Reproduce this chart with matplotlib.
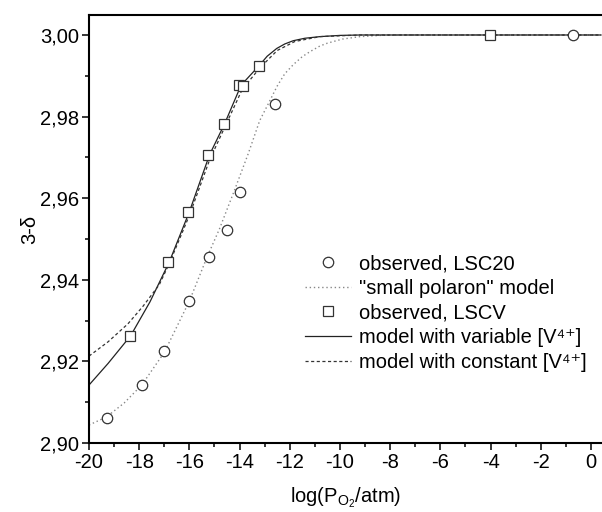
import matplotlib
matplotlib.use("Agg")
import matplotlib.pyplot as plt
from matplotlib.ticker import MultipleLocator, FuncFormatter

plt.rcParams['font.family'] = ['Liberation Sans', 'DejaVu Sans']
plt.rcParams['mathtext.fontset'] = 'custom'
plt.rcParams['mathtext.rm'] = 'Liberation Sans'
plt.rcParams['mathtext.it'] = 'Liberation Sans'

# observed points
lsc20_x = [-19.3, -17.9, -17.0, -16.0, -15.2, -14.5, -14.0, -12.6, -0.7]
lsc20_y = [2.9062, 2.9143, 2.9225, 2.9349, 2.9457, 2.9522, 2.9614, 2.9831, 3.000]

lscv_x = [-18.35, -16.85, -16.04, -15.24, -14.63, -14.01, -13.85, -13.22, -4.03]
lscv_y = [2.9263, 2.9444, 2.9567, 2.9706, 2.9782, 2.9877, 2.9875, 2.9925, 3.000]

# "small polaron" model (LSC20)
polaron_x = [-20, -19.3, -18.6, -17.9, -17.0, -16.0, -15.3, -14.8, -14.2, -13.65,
             -13.2, -12.86, -12.5, -12.2, -11.85, -11.5, -11.2, -10.8, -10.5, -9.9,
             -9.2, -8.4, -7.5, 0.4]
polaron_y = [2.9044, 2.9064, 2.9098, 2.9142, 2.9222, 2.9348, 2.9455, 2.9525, 2.9620, 2.9710,
             2.9790, 2.9831, 2.9875, 2.9905, 2.9928, 2.9947, 2.9959, 2.9973, 2.9980, 2.9990,
             2.9996, 2.9999, 3.0, 3.0]

# model with variable [V4+]
var_x = [-20, -19.24, -18.34, -17.57, -16.8, -16.0, -15.2, -14.6, -13.94, -13.22,
         -12.9, -12.52, -12.2, -11.86, -11.4, -10.8, -10.0, -9.2, 0.4]
var_y = [2.9142, 2.9195, 2.9263, 2.9346, 2.9444, 2.9567, 2.9706, 2.9782, 2.9877, 2.9925,
         2.9948, 2.9967, 2.9978, 2.9986, 2.9992, 2.9996, 2.9999, 3.0, 3.0]

# model with constant [V4+]
const_x = [-20, -19.24, -18.45, -17.85, -17.2, -16.8, -16.0, -15.2, -14.6, -13.9,
           -13.2, -12.5, -11.8, -10.8, -9.2, 0.4]
const_y = [2.9213, 2.9248, 2.9292, 2.9335, 2.9388, 2.9440, 2.9558, 2.9693, 2.9773, 2.9866,
           2.9919, 2.9962, 2.9984, 2.9996, 3.0, 3.0]

fig = plt.figure(figsize=(6.02, 5.12), dpi=100)
ax = fig.add_axes([89/602, 69/512, 513/602, 428/512])

ax.plot(lsc20_x, lsc20_y, 'o', ms=7.5, mfc='white', mec='#333333', mew=0.9,
        label='observed, LSC20', zorder=3)
ax.plot(polaron_x, polaron_y, color='#888888', lw=1.0, ls=(0, (1, 2)),
        label='"small polaron" model')
ax.plot(lscv_x, lscv_y, 's', ms=7, mfc='white', mec='#333333', mew=0.9,
        label='observed, LSCV', zorder=3)
ax.plot(var_x, var_y, color='#222222', lw=0.9, label='model with variable [V⁴⁺]')
ax.plot(const_x, const_y, color='#333333', lw=0.9, ls=(0, (2.5, 2)),
        label='model with constant [V⁴⁺]')

ax.set_xlim(-20, 0.44)
ax.set_ylim(2.90, 3.0049)
ax.xaxis.set_major_locator(MultipleLocator(2))
ax.xaxis.set_minor_locator(MultipleLocator(1))
ax.yaxis.set_major_locator(MultipleLocator(0.02))
ax.yaxis.set_minor_locator(MultipleLocator(0.01))
ax.yaxis.set_major_formatter(FuncFormatter(lambda v, p: ('%.2f' % v).replace('.', ',')))
ax.xaxis.set_major_formatter(FuncFormatter(lambda v, p: '%d' % round(v)))

ax.spines['right'].set_visible(False)
for s in ['left', 'bottom', 'top']:
    ax.spines[s].set_linewidth(1.5)
ax.tick_params(which='major', direction='out', length=5, width=1.1, labelsize=14.5, pad=2)
ax.tick_params(which='minor', direction='out', length=3, width=1.1)
ax.tick_params(top=False, right=False, which='both')

ax.set_xlabel('log(P$_{\\mathregular{O_2}}$/atm)', fontsize=14.5, labelpad=10)
ax.set_ylabel('3-δ', fontsize=14.5, labelpad=1)

ax.legend(loc='center left', bbox_to_anchor=(305/602, 1 - 313/512),
          bbox_transform=fig.transFigure, frameon=False, fontsize=14.5,
          handlelength=2.3, handletextpad=0.4, labelspacing=0.28,
          borderpad=0, borderaxespad=0)

fig.savefig('out.png', dpi=100)
